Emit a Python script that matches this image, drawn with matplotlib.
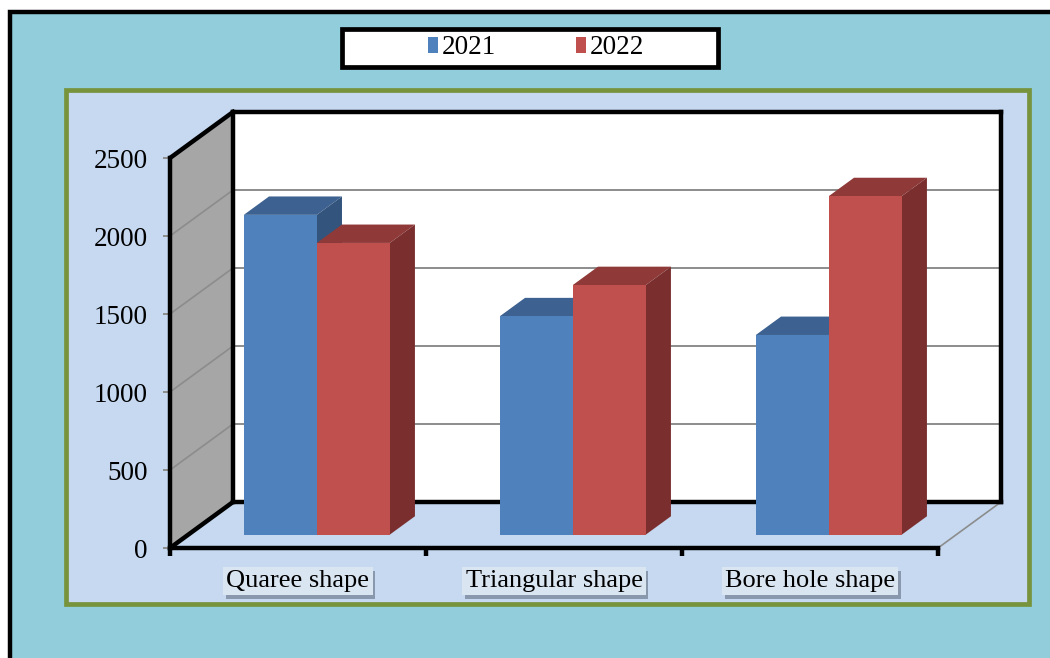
import matplotlib.pyplot as plt
import matplotlib.patheffects as pe
from matplotlib.patches import Rectangle

plt.rcParams['font.family'] = ['Liberation Serif', 'DejaVu Serif']

categories = ["Quaree shape", "Triangular shape", "Bore hole shape"]
years = ["2021", "2022"]
values_2021 = [2050, 1400, 1280]
values_2022 = [1870, 1600, 2170]
y_ticks = [0, 500, 1000, 1500, 2000, 2500]

front_colors = ["#4F81BD", "#C0504D"]
top_colors = ["#3D6190", "#8F3A38"]
side_colors = ["#33547D", "#7A2F2E"]

W, H = 1050, 658
fig = plt.figure(figsize=(W / 100, H / 100), dpi=100)
fig.patch.set_facecolor("white")


def px_rect(x0, y0, x1, y1, **kw):
    """Rectangle given in figure pixels (origin top-left)."""
    r = Rectangle((x0 / W, 1 - y1 / H), (x1 - x0) / W, (y1 - y0) / H,
                  transform=fig.transFigure, **kw)
    fig.patches.append(r)
    return r


# outer chart frame, panel and legend box
px_rect(10, 12, 1080, 700, facecolor="#92CDDC", edgecolor="black", lw=3.2, zorder=-3)
px_rect(66, 90, 1029, 604, facecolor="#C6D9F1", edgecolor="#77933C", lw=3.4, zorder=-2)
px_rect(342, 29, 718, 67, facecolor="white", edgecolor="black", lw=3.4, zorder=-2)

ax = fig.add_axes([170 / W, 1 - 548 / H, 768 / W, 390 / H])
ax.set_zorder(1)
ax.patch.set_visible(False)
ax.set_xlim(0, len(categories))
ax.set_ylim(0, y_ticks[-1])

# oblique depth offset in data units (full depth of the box)
DX = 63 / 768 * len(categories)
DY = 46 / 390 * y_ticks[-1]
D0, D1 = 0.29, 0.69   # bar depth range
BW = 0.285            # width of one bar
VMAX = y_ticks[-1]
NC = len(categories)


def proj(x, v, d):
    return x + d * DX, v + d * DY


def poly(pts, **kw):
    xs, ys = zip(*[proj(*p) for p in pts])
    return ax.fill(xs, ys, clip_on=False, **kw)


def seg(p, q, **kw):
    (x0, y0), (x1, y1) = proj(*p), proj(*q)
    ax.plot([x0, x1], [y0, y1], clip_on=False, solid_capstyle="projecting", **kw)


# walls
poly([(0, 0, 0), (0, 0, 1), (0, VMAX, 1), (0, VMAX, 0)], facecolor="#A6A6A6", lw=0, zorder=0.5)
poly([(0, 0, 1), (NC, 0, 1), (NC, VMAX, 1), (0, VMAX, 1)], facecolor="white", lw=0, zorder=0.5)

for v in y_ticks[1:-1]:
    seg((0, v, 1), (NC, v, 1), color="#8C8C8C", lw=1.4, zorder=0.8)
    seg((0, v, 0), (0, v, 1), color="#8C8C8C", lw=1.2, zorder=0.8)

edge = dict(color="black", lw=3.2, zorder=1)
seg((0, 0, 1), (NC, 0, 1), **edge)
seg((NC, 0, 1), (NC, VMAX, 1), **edge)
seg((NC, VMAX, 1), (0, VMAX, 1), **edge)
seg((0, VMAX, 1), (0, 0, 1), **edge)
seg((0, VMAX, 0), (0, VMAX, 1), **edge)
seg((0, 0, 0), (0, 0, 1), **edge)
seg((NC, 0, 0), (NC, 0, 1), color="#8C8C8C", lw=1.2, zorder=0.8)

# bars with top and side faces
handles = []
for j, vals in enumerate([values_2021, values_2022]):
    z = 3 + j
    lefts = [i + 0.502 - BW + j * BW for i in range(NC)]
    bars = ax.bar([x + D0 * DX for x in lefts], vals, width=BW, bottom=D0 * DY,
                  align="edge", color=front_colors[j], lw=0, zorder=z + 0.2,
                  clip_on=False)
    handles.append(bars[0])
    for x0, v in zip(lefts, vals):
        poly([(x0, v, D0), (x0 + BW, v, D0), (x0 + BW, v, D1), (x0, v, D1)],
             facecolor=top_colors[j], lw=0, zorder=z)
        poly([(x0 + BW, 0, D0), (x0 + BW, 0, D1), (x0 + BW, v, D1), (x0 + BW, v, D0)],
             facecolor=side_colors[j], lw=0, zorder=z)

# axes frame
for s in ["top", "right"]:
    ax.spines[s].set_visible(False)
for s in ["left", "bottom"]:
    ax.spines[s].set_linewidth(3.2)
    ax.spines[s].set_zorder(6)

ax.set_yticks(y_ticks)
ax.set_yticklabels([str(v) for v in y_ticks], fontsize=19.5)
ax.tick_params(axis="y", length=5, width=1.4, color="#8C8C8C", pad=11)
ax.set_xticks(range(NC + 1))
ax.set_xticklabels([""] * (NC + 1))
ax.tick_params(axis="x", length=6, width=3.2, color="black")

for i, name in enumerate(categories):
    t = ax.text(i + 0.5, -0.085, name, transform=ax.get_xaxis_transform(),
                ha="center", va="center", fontsize=19, zorder=7,
                bbox=dict(boxstyle="square,pad=0.12", facecolor="#DAE5F2", edgecolor="none"))
    t.get_bbox_patch().set_path_effects([
        pe.SimplePatchShadow(offset=(2, -3), shadow_rgbFace="#404A5A", alpha=0.45),
        pe.Normal()])

fig.legend(handles, years, loc="center", bbox_to_anchor=(536 / W, 1 - 48 / H),
           ncol=2, frameon=False, fontsize=19.5, handlelength=0.37, handleheight=0.55,
           handletextpad=0.15, columnspacing=2.95)

fig.savefig("out.png", dpi=100)
